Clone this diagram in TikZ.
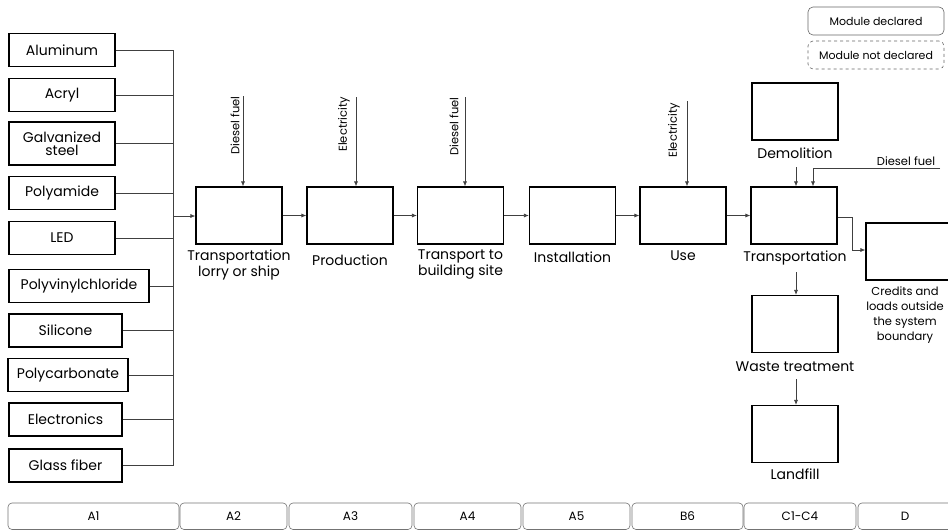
\documentclass[tikz,border=0pt]{standalone}
\usepackage{fontspec}
\setmainfont{Poppins}
\usetikzlibrary{arrows.meta,calc}
\begin{document}
\begin{tikzpicture}[x=1pt,y=-1pt,
  box/.style={draw=black,line width=1.1pt,minimum height=57pt,minimum width=86pt,inner sep=0pt},
  mat/.style={draw=black,line width=1.1pt,minimum height=33pt,inner sep=0pt,font=\fontsize{14}{15}\selectfont,align=center},
  lbl/.style={font=\fontsize{14}{16}\selectfont,align=center,inner sep=0pt},
  small/.style={font=\fontsize{11.5}{13}\selectfont,inner sep=0pt},
  conn/.style={draw=black!75,line width=0.7pt},
  arr/.style={conn,-{Latex[length=5pt,width=4pt]}},
  phase/.style={draw=black!55,line width=0.6pt,rounded corners=4pt},
  leg/.style={draw=black!60,line width=0.6pt,rounded corners=5pt}]
\path[use as bounding box] (0,0) rectangle (948,530);
\begin{scope}
\clip (0,0) rectangle (948,530);
% materials
\node[mat,minimum width=106pt] (alu) at (62,50) {Aluminum};
\node[mat,minimum width=106pt] (acr) at (62,95) {Acryl};
\node[mat,minimum width=106pt,minimum height=43pt] (gal) at (62,143.5) {Galvanized\\[-2pt]steel};
\node[mat,minimum width=106pt] (pam) at (62,193) {Polyamide};
\node[mat,minimum width=106pt] (led) at (62,238) {LED};
\node[mat,minimum width=140pt] (pvc) at (79,286) {Polyvinylchloride};
\node[mat,minimum width=113pt] (sil) at (65.5,330.5) {Silicone};
\node[mat,minimum width=120pt] (pc) at (68,375) {Polycarbonate};
\node[mat,minimum width=113pt] (ele) at (65.5,419.5) {Electronics};
\node[mat,minimum width=113pt] (gla) at (65.5,465.5) {Glass fiber};
\coordinate (busT) at (173,50);
\coordinate (busB) at (173,465.5);
\coordinate (busO) at (173,216);
\draw[conn] (busT) -- (busB);
\foreach \m in {alu,acr,gal,pam,led,pvc,sil,pc,ele,gla}{
  \draw[conn] (\m.east) -- (\m.east -| busT);
}
% process chain
\node[box] (t1) at (239,215.5) {};
\node[box] (pr) at (350,215.5) {};
\node[box] (t2) at (460.5,215.5) {};
\node[box] (ins) at (572.5,215.5) {};
\node[box] (use) at (683,215.5) {};
\node[box] (tr) at (794,215.5) {};
\node[box] (dem) at (795,111.5) {};
\node[box] (wt) at (795,324) {};
\node[box] (lf) at (795,434) {};
\node[box,minimum width=94pt] (cr) at (913,251.5) {};
\draw[arr] (busO) -- (busO -| t1.west);
\draw[arr] (t1.east) -- (pr.west);
\draw[arr] (pr.east) -- (t2.west);
\draw[arr] (t2.east) -- (ins.west);
\draw[arr] (ins.east) -- (use.west);
\draw[arr] (use.east) -- (tr.west);
% labels
\node[lbl] (lt1) at (239,265) {Transportation\\lorry or ship};
\node[lbl] (lpr) at (350,260) {Production};
\node[lbl] (lt2) at (460.5,265) {Transport to\\building site};
\node[lbl] (lins) at (572.5,257) {Installation};
\node[lbl] (luse) at (683,256) {Use};
\node[lbl] (ltr) at (795,258) {Transportation};
\node[lbl] (ldem) at (795,153) {Demolition};
\node[lbl] (lwt) at (795,367) {Waste treatment};
\node[lbl] (llf) at (795,474) {Landfill};
\node[font=\fontsize{11.5}{15}\selectfont,align=center,inner sep=0pt] (lcr) at (905,315) {Credits and\\loads outside\\the system\\boundary};
% inputs
\coordinate (i1) at (243,96);
\coordinate (i2) at (356,97);
\coordinate (i3) at (465,97);
\coordinate (i4) at (687,101);
\draw[arr] (i1) -- (i1 |- t1.north);
\draw[arr] (i2) -- (i2 |- pr.north);
\draw[arr] (i3) -- (i3 |- t2.north);
\draw[arr] (i4) -- (i4 |- use.north);
\node[small,rotate=90,anchor=east] (d1) at ($(i1)+(-8,0)$) {Diesel fuel};
\node[small,rotate=90,anchor=east] (e1) at ($(i2)+(-12,0)$) {Electricity};
\node[small,rotate=90,anchor=east] (d2) at ($(i3)+(-11,0)$) {Diesel fuel};
\node[small,rotate=90,anchor=east] (e2) at ($(i4)+(-13,2)$) {Electricity};
% end of life
\coordinate (ds) at (796,167);
\draw[arr] (ds) -- (ds |- tr.north);
\coordinate (df) at (940,168);
\coordinate (dfc) at (813,168);
\draw[arr] (df) -- (dfc) -- (dfc |- tr.north);
\node[small] (ldf) at (906,161) {Diesel fuel};
\coordinate (c1) at (852,217);
\coordinate (c2) at (852,250);
\draw[arr] (tr.east |- c1) -- (c1) -- (c2) -- (c2 -| cr.west);
\coordinate (w1) at (796,272);
\draw[arr] (w1) -- (w1 |- wt.north);
\coordinate (w2) at (796,379);
\draw[arr] (w2) -- (w2 |- lf.north);
% legend
\node[leg,minimum width=136pt,minimum height=28pt,font=\fontsize{11}{12}\selectfont] (ld) at (876,21) {Module declared};
\node[leg,dashed,minimum width=136pt,minimum height=28pt,font=\fontsize{11}{12}\selectfont] (lnd) at (876,55) {Module not declared};
% phases
\foreach \a/\b/\t in {8/179/A1,180/287/A2,289/412/A3,414/521/A4,523/630/A5,632/743/B6,744/856/C1-C4,858/952/D}{
  \draw[phase] (\a,503) rectangle (\b,529.5);
  \node[font=\fontsize{12}{13}\selectfont,inner sep=0pt] at ({(\a+\b)/2},516) {\t};
}
\end{scope}
\end{tikzpicture}
\end{document}
